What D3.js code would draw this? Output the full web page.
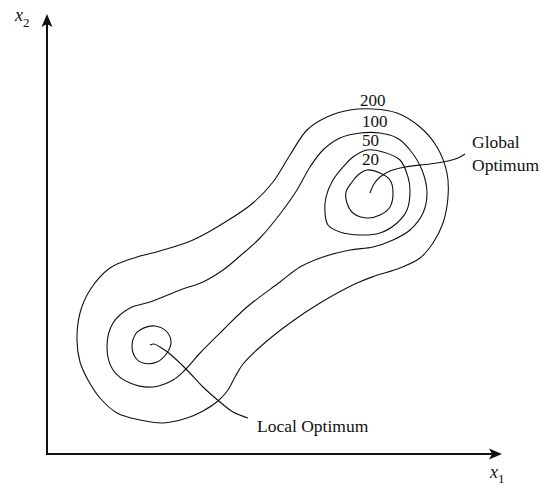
<!DOCTYPE html>
<html>
<head>
<meta charset="utf-8">
<script src="https://cdn.jsdelivr.net/npm/d3@7"></script>
<style>
  html, body { margin: 0; padding: 0; background: #fff; }
  text { font-family: "Liberation Serif", "Times New Roman", serif; fill: #111; }
</style>
</head>
<body>
<svg id="chart" width="560" height="488"></svg>
<script>
// ---- data (x1, x2 in arbitrary design-space units) ----
const contourLevels = ["200", "100", "50", "20"];
const contour200 = [
  [18.6,6.8],[14.0,8.2],[10.6,11.2],[8.2,14.8],[6.6,18.4],[6.0,22.8],[6.6,28.2],[8.6,32.8],
  [12.6,37.2],[18.0,39.4],[22.6,40.6],[29.2,42.8],[36.0,46.6],[41.2,50.2],[45.2,54.4],[48.6,59.8],
  [52.0,64.8],[56.0,67.4],[60.6,68.8],[65.2,69.0],[70.0,68.2],[74.6,65.4],[78.0,61.4],[80.0,56.2],
  [80.2,51.4],[79.2,46.2],[77.2,42.2],[74.6,39.2],[70.6,37.2],[65.6,35.6],[62.0,34.2],[54.6,30.2],
  [48.6,26.2],[42.6,21.4],[39.2,18.0],[37.6,15.4],[36.2,12.8],[34.2,10.6],[31.2,8.6],[28.0,7.2],[23.2,6.2]
];
const contour100 = [
  [21.2,13.4],[16.6,14.2],[13.2,16.8],[12.0,21.4],[13.2,26.2],[16.6,29.2],[20.6,30.4],[26.6,32.8],
  [31.2,34.4],[35.2,36.8],[38.6,39.6],[42.6,43.2],[46.6,48.0],[50.0,52.8],[52.6,57.4],[55.2,60.8],
  [58.6,63.2],[62.6,64.2],[66.6,64.2],[70.0,63.2],[72.6,60.8],[75.0,56.8],[76.0,52.2],[75.2,48.2],
  [72.6,44.8],[69.2,42.8],[65.2,41.4],[60.6,40.8],[55.2,39.4],[50.6,37.4],[46.6,34.4],[40.0,29.4],
  [35.2,24.8],[30.6,20.2],[27.6,16.8],[25.2,14.8]
];
const contour50 = [
  [64.0,60.8],[67.2,60.4],[70.6,58.8],[72.2,55.4],[72.6,52.8],[72.0,48.8],[70.0,46.2],[66.6,44.2],
  [62.6,43.8],[58.6,44.4],[56.2,45.8],[55.6,48.2],[55.8,51.4],[57.2,54.8],[59.2,57.4],[61.2,59.4]
];
const contour20Global = [
  [64.0,56.8],[66.6,56.2],[68.6,54.8],[69.2,52.4],[68.6,49.4],[66.6,47.8],[64.0,47.2],[61.2,48.2],
  [60.0,50.2],[59.8,52.4],[61.0,54.4],[62.2,55.8]
];
const contour20Local = [
  [18.6,24.8],[21.6,25.6],[24.0,24.4],[24.8,22.4],[24.0,20.2],[22.0,18.4],[19.2,18.2],[17.6,19.4],
  [17.0,21.8],[17.6,23.8]
];
const globalLeader = [
  [64.6,52.2],[65.4,54.0],[66.6,55.4],[68.6,56.6],[71.6,57.4],[76.6,58.0],[80.2,58.6],[82.2,59.2],[83.6,60.0]
];
const localLeader = [
  [20.6,21.8],[21.4,22.0],[22.6,21.4],[24.6,20.0],[28.0,16.8],[31.2,13.4],[34.6,10.4],[37.2,8.4],[40.2,7.2]
];
const levelLabelPos = [[62.6,69.6],[63.0,65.4],[63.0,61.6],[63.0,57.8]];
const annotations = [
  { lines: ["Global", "Optimum"], pos: [[85.0,61.2],[85.0,56.6]] },
  { lines: ["Local Optimum"], pos: [[42.0,4.4]] }
];
const axisNames = { x: "x", xSub: "1", y: "x", ySub: "2" };

// ---- layout ----
const svg = d3.select("#chart");
const x = d3.scaleLinear().domain([0, 91]).range([47, 502]);
const y = d3.scaleLinear().domain([0, 88]).range([454, 14]);

const closed = d3.line().x(d => x(d[0])).y(d => y(d[1])).curve(d3.curveCatmullRomClosed.alpha(0.5));
const open = d3.line().x(d => x(d[0])).y(d => y(d[1])).curve(d3.curveCatmullRom.alpha(0.5));

const g = svg.append("g");
[contour200, contour100, contour50, contour20Global, contour20Local].forEach(c => {
  g.append("path").attr("d", closed(c)).attr("fill", "none").attr("stroke", "#111").attr("stroke-width", 1.1);
});
[globalLeader, localLeader].forEach(c => {
  g.append("path").attr("d", open(c)).attr("fill", "none").attr("stroke", "#111").attr("stroke-width", 1.1);
});

// contour level labels
g.selectAll("text.lvl").data(contourLevels).enter().append("text")
  .attr("class", "lvl")
  .attr("x", (d, i) => x(levelLabelPos[i][0]))
  .attr("y", (d, i) => y(levelLabelPos[i][1]))
  .attr("font-size", 17)
  .text(d => d);

annotations.forEach(a => {
  a.lines.forEach((t, i) => {
    g.append("text").attr("x", x(a.pos[i][0])).attr("y", y(a.pos[i][1]))
      .attr("font-size", 17.5).text(t);
  });
});

// axes
const x0 = x(0), y0 = y(0), xEnd = x(91), yEnd = y(88);
svg.append("line").attr("x1", x0).attr("y1", y0 + 1).attr("x2", x0).attr("y2", yEnd + 8)
  .attr("stroke", "#111").attr("stroke-width", 2);
svg.append("line").attr("x1", x0 - 1).attr("y1", y0).attr("x2", xEnd - 8).attr("y2", y0)
  .attr("stroke", "#111").attr("stroke-width", 2);
// arrowheads
svg.append("path")
  .attr("d", `M${x0},${yEnd} L${x0 - 5.5},${yEnd + 13} L${x0},${yEnd + 10} L${x0 + 5.5},${yEnd + 13} Z`)
  .attr("fill", "#111");
svg.append("path")
  .attr("d", `M${xEnd},${y0} L${xEnd - 13},${y0 - 5.5} L${xEnd - 10},${y0} L${xEnd - 13},${y0 + 5.5} Z`)
  .attr("fill", "#111");

// axis names
const yl = svg.append("text").attr("x", x0 - 32).attr("y", yEnd + 7).attr("font-size", 18);
yl.append("tspan").attr("font-style", "italic").text(axisNames.y);
yl.append("tspan").attr("dy", 6).attr("font-size", 13).text(axisNames.ySub);
const xl = svg.append("text").attr("x", xEnd - 12).attr("y", y0 + 24).attr("font-size", 18);
xl.append("tspan").attr("font-style", "italic").text(axisNames.x);
xl.append("tspan").attr("dy", 5).attr("font-size", 13).text(axisNames.xSub);
</script>
</body>
</html>
